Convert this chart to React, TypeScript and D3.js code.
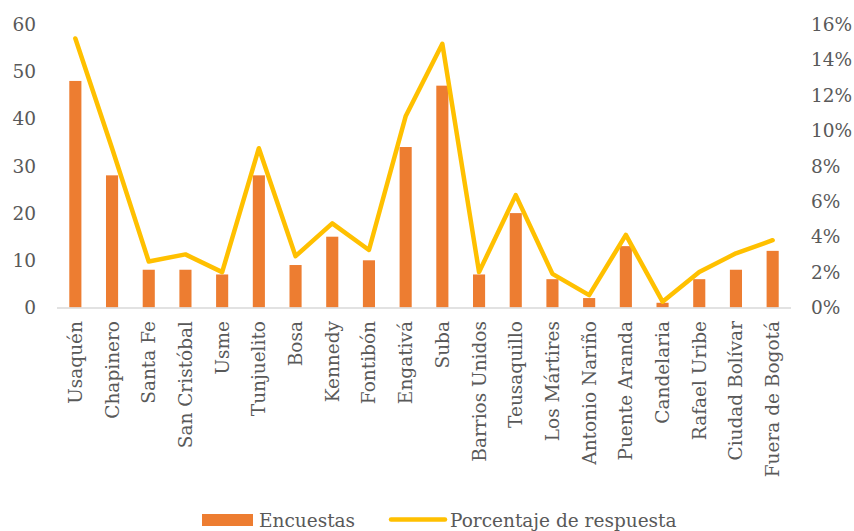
import React from "react";
import * as d3 from "d3";

const categories = [
  "Usaquén", "Chapinero", "Santa Fe", "San Cristóbal", "Usme", "Tunjuelito", "Bosa",
  "Kennedy", "Fontibón", "Engativá", "Suba", "Barrios Unidos", "Teusaquillo",
  "Los Mártires", "Antonio Nariño", "Puente Aranda", "Candelaria", "Rafael Uribe",
  "Ciudad Bolívar", "Fuera de Bogotá",
];
const encuestas = [48, 28, 8, 8, 7, 28, 9, 15, 10, 34, 47, 7, 20, 6, 2, 13, 1, 6, 8, 12];
const porcentaje = [
  0.152, 0.09, 0.026, 0.03, 0.02, 0.09, 0.029, 0.0475, 0.0325, 0.108, 0.149, 0.02,
  0.0635, 0.019, 0.007, 0.041, 0.0033, 0.02, 0.0306, 0.038,
];
const leftTicks = [0, 10, 20, 30, 40, 50, 60];
const rightTicks = [0, 0.02, 0.04, 0.06, 0.08, 0.1, 0.12, 0.14, 0.16];
const seriesNames = ["Encuestas", "Porcentaje de respuesta"];

const W = 854;
const H = 531;
const left = 57;
const right = 791;
const top = 24.3;
const bottom = 307.5;
const barColor = "#ED7D31";
const lineColor = "#FFC000";
const textColor = "#595959";
const font = '"DejaVu Serif", serif';
const fs = 18.5;
const textStyle = { fontFamily: font, fontSize: fs, fill: textColor } as React.CSSProperties;

export default function App() {
  const x = d3.scaleBand<string>().domain(categories).range([left, right]).paddingInner(0.67).paddingOuter(0.335);
  const yL = d3.scaleLinear().domain([0, 60]).range([bottom, top]);
  const yR = d3.scaleLinear().domain([0, 0.16]).range([bottom, top]);
  const line = d3
    .line<number>()
    .x((_, i) => (x(categories[i]) as number) + x.bandwidth() / 2)
    .y((d) => yR(d));
  const pctFmt = d3.format(".0%");

  return (
    <svg width={W} height={H} style={{ position: "absolute", left: 0, top: 0, background: "#fff" }}>
      <g style={textStyle}>
        {leftTicks.map((t) => (
          <text key={"l" + t} x={36} y={yL(t)} dy="0.36em" textAnchor="end">
            {t}
          </text>
        ))}
        {rightTicks.map((t) => (
          <text key={"r" + t} x={811} y={yR(t)} dy="0.36em" textAnchor="start">
            {pctFmt(t)}
          </text>
        ))}
        {categories.map((c) => (
          <text
            key={"c" + c}
            transform={`translate(${(x(c) as number) + x.bandwidth() / 2 + 6.5},${321}) rotate(-90)`}
            textAnchor="end"
          >
            {c}
          </text>
        ))}
      </g>
      {categories.map((c, i) => (
        <rect
          key={"b" + c}
          x={x(c)}
          y={yL(encuestas[i])}
          width={x.bandwidth()}
          height={bottom - yL(encuestas[i])}
          fill={barColor}
        />
      ))}
      <line x1={left} x2={right} y1={bottom + 0.5} y2={bottom + 0.5} stroke="#D9D9D9" strokeWidth={1.5} />
      <path
        d={line(porcentaje) || ""}
        fill="none"
        stroke={lineColor}
        strokeWidth={4.5}
        strokeLinejoin="round"
        strokeLinecap="round"
      />
      <g style={textStyle}>
        <rect x={202} y={514} width={51} height={12} fill={barColor} />
        <text x={259} y={527}>{seriesNames[0]}</text>
        <line x1={391} x2={445} y1={519.5} y2={519.5} stroke={lineColor} strokeWidth={4.5} strokeLinecap="round" />
        <text x={450} y={527}>{seriesNames[1]}</text>
      </g>
    </svg>
  );
}
